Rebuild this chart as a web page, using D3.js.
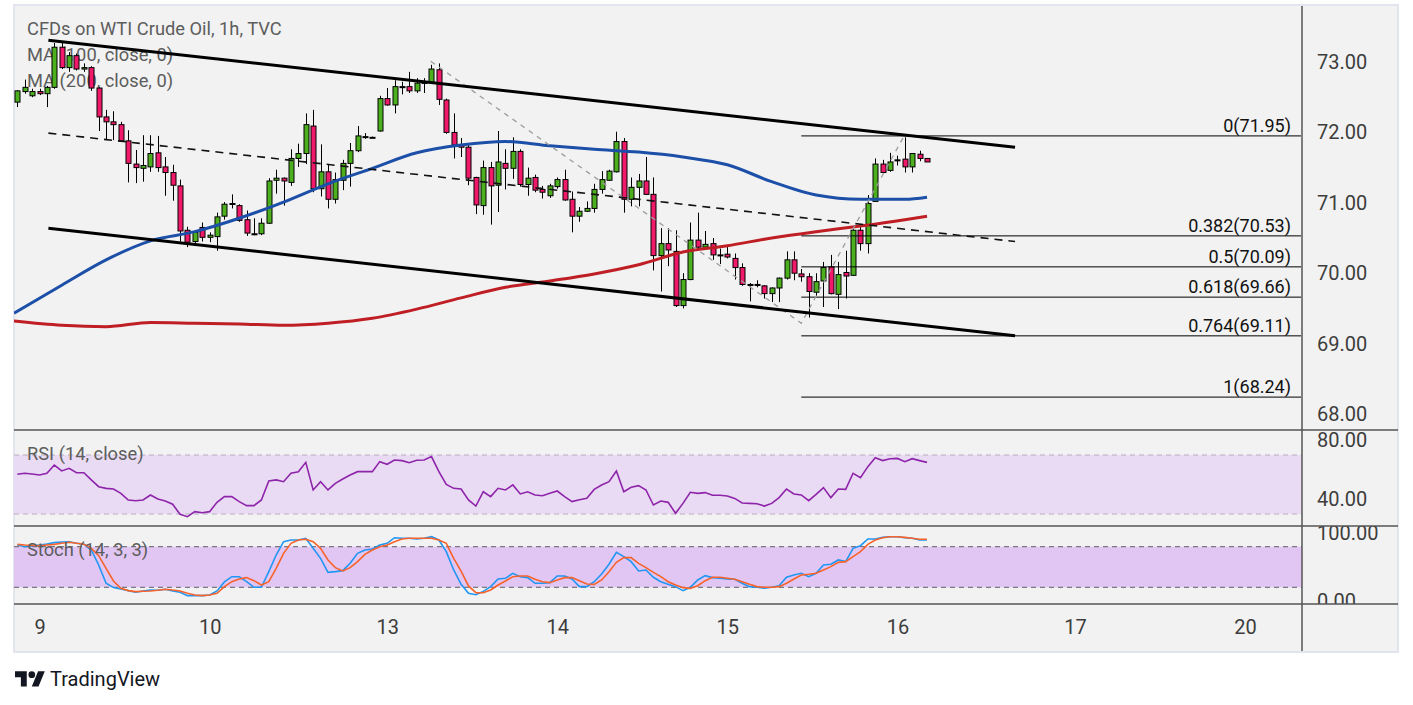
<!DOCTYPE html>
<html>
<head>
<meta charset="utf-8">
<script src="https://cdn.jsdelivr.net/npm/d3@7"></script>
<style>
  body { margin: 0; background: #fff; }
  svg { display: block; font-family: Roboto, "Liberation Sans", sans-serif; }
</style>
</head>
<body>
<svg width="1413" height="705"></svg>
<script>
// hourly bars, index 0 = first visible bar
const barOpen = [72.43,72.58,72.52,72.58,72.55,72.64,73.21,72.92,73.09,72.90,72.92,72.63,72.22,72.15,72.11,71.88,71.55,71.49,71.51,71.71,
  71.51,71.43,71.24,70.61,70.45,70.65,70.51,70.52,70.81,70.98,70.96,70.76,70.56,70.56,70.71,71.32,71.35,71.29,71.63,71.70,
  72.09,71.20,71.44,71.05,71.32,71.56,71.74,71.94,71.93,72.02,72.48,72.39,72.65,72.65,72.59,72.70,72.71,72.89,72.46,72.00,
  71.82,71.79,71.36,70.96,71.50,71.25,71.56,71.49,71.73,71.26,71.36,71.19,71.10,71.23,71.33,71.05,70.81,70.88,70.92,71.19,
  71.32,71.44,71.87,71.05,71.22,71.31,71.12,70.25,70.42,70.31,69.54,69.91,70.47,70.37,70.42,70.26,70.27,70.21,70.08,69.84,
  69.84,69.82,69.71,69.79,69.93,70.19,69.99,69.95,69.73,69.89,70.09,69.70,70.01,69.97,70.61,70.42,71.02,71.55,71.46,71.60,
  71.62,71.51,71.69,71.63];
const barHigh = [72.60,72.75,72.62,72.62,72.66,73.27,73.27,73.14,73.12,72.98,72.94,72.64,72.32,72.30,72.15,72.03,71.75,71.96,71.96,71.95,
  71.65,71.54,71.33,70.66,70.61,70.72,70.58,70.86,71.01,71.12,70.98,70.89,70.78,70.78,71.35,71.47,71.36,71.76,71.84,72.27,
  72.32,71.83,71.54,71.43,71.61,71.85,72.09,71.99,71.94,72.52,72.63,72.74,72.72,72.86,72.77,72.77,72.96,72.98,72.48,72.27,
  71.92,71.82,71.37,71.60,71.58,72.02,71.76,71.93,71.76,71.50,71.40,71.24,71.27,71.36,71.47,71.16,70.94,71.02,71.27,71.45,
  71.47,72.01,71.92,71.36,71.41,71.65,71.36,70.64,70.64,70.61,70.00,70.72,70.86,70.60,70.50,70.35,70.39,70.28,70.14,69.86,
  69.90,69.83,69.80,69.94,70.31,70.31,70.06,70.00,70.00,70.16,70.26,70.16,70.32,70.64,70.68,71.11,71.63,71.61,71.71,71.67,
  71.93,71.70,71.74,71.63];
const barLow = [72.36,72.55,72.50,72.53,72.36,72.62,72.90,72.86,72.88,72.86,72.59,72.02,71.89,71.89,71.87,71.29,71.28,71.30,71.44,71.44,
  71.10,71.03,70.45,70.37,70.42,70.45,70.44,70.32,70.76,70.92,70.73,70.53,70.54,70.54,70.70,71.13,70.96,71.24,71.51,71.55,
  71.15,71.09,70.92,70.99,71.18,71.23,71.72,71.91,71.92,72.01,72.38,72.27,72.54,72.56,72.56,72.56,72.70,72.39,71.98,71.63,
  71.65,71.25,70.84,70.83,70.69,70.87,71.19,71.34,71.23,71.10,71.15,71.06,71.07,71.20,71.03,70.58,70.73,70.87,70.86,71.13,
  71.31,71.43,70.86,70.95,70.95,71.11,70.04,69.74,70.10,69.52,69.50,69.90,70.34,70.33,70.19,70.13,70.21,69.91,69.82,69.60,
  69.80,69.64,69.59,69.59,69.91,69.90,69.88,69.37,69.68,69.52,69.70,69.49,69.64,69.96,70.32,70.28,71.02,71.41,71.44,71.53,
  71.43,71.43,71.59,71.58];
const barClose = [72.59,72.64,72.58,72.55,72.64,73.21,72.92,73.09,72.90,72.92,72.63,72.22,72.15,72.11,71.88,71.56,71.50,71.53,71.70,71.50,
  71.43,71.25,70.60,70.44,70.58,70.51,70.54,70.80,70.98,70.99,70.75,70.57,70.55,70.71,71.31,71.35,71.31,71.63,71.70,72.11,
  71.20,71.44,71.05,71.33,71.56,71.74,71.95,71.94,71.93,72.48,72.39,72.65,72.65,72.59,72.70,72.71,72.90,72.47,72.00,71.82,
  71.79,71.35,70.97,71.50,71.24,71.58,71.49,71.73,71.26,71.35,71.18,71.15,71.24,71.33,71.04,70.81,70.88,70.92,71.19,71.33,
  71.45,71.87,71.05,71.22,71.31,71.12,70.25,70.42,70.33,69.54,69.91,70.47,70.37,70.41,70.26,70.25,70.23,70.08,69.84,69.83,
  69.83,69.71,69.79,69.93,70.19,70.00,69.95,69.74,69.88,70.08,69.71,69.98,69.96,70.61,70.42,70.99,71.55,71.43,71.58,71.61,
  71.51,71.70,71.63,71.58];

// moving averages read at sampled bars
const maIdx = [-0.45,6,12,18,24,30,36,42,48,54,60,66,72,78,84,90,96,102,108,114,120,123];
const ma100 = [69.43,69.83,70.19,70.46,70.59,70.78,71.01,71.27,71.49,71.71,71.82,71.87,71.81,71.76,71.72,71.65,71.54,71.30,71.11,71.05,71.05,71.08];
const ma200 = [69.32,69.26,69.24,69.30,69.29,69.28,69.26,69.29,69.36,69.49,69.65,69.80,69.89,69.99,70.12,70.30,70.39,70.50,70.59,70.67,70.76,70.81];

const rsi = [56.9,57.6,57.1,56.4,57.6,63.2,59.2,61.0,58.0,58.0,53.1,48.5,47.4,46.9,44.0,39.5,39.0,39.5,42.9,40.2,
  38.8,36.6,29.8,28.2,31.6,30.9,31.6,37.9,41.8,41.8,38.4,35.7,35.7,39.5,52.4,53.1,51.9,57.6,58.7,65.0,
  46.3,51.9,46.3,50.8,53.7,56.4,58.7,58.7,58.7,65.5,63.7,66.6,66.2,64.8,66.4,66.6,68.9,58.7,50.1,47.4,
  46.9,39.5,35.4,45.1,41.8,47.4,46.3,49.7,43.6,45.1,42.9,42.4,44.0,45.6,41.8,38.4,39.7,40.6,46.7,49.7,
  51.9,59.2,45.1,48.1,49.2,46.3,36.1,38.8,37.9,30.5,37.2,44.7,44.0,44.5,42.7,42.7,42.2,40.6,37.5,37.2,
  37.0,35.4,37.2,41.1,46.9,43.6,42.9,39.0,43.3,47.9,41.1,46.9,46.7,57.6,54.6,62.1,68.2,66.2,67.5,67.7,
  65.5,67.5,66.2,65.0];
const stochK = [82.5,80.0,81.0,82.5,84.0,86.0,87.0,87.4,85.0,83.5,75.1,53.0,25.9,19.6,17.6,15.1,12.6,14.6,16.1,15.6,
  17.1,14.6,12.6,7.7,7.7,7.7,8.7,14.6,28.0,35.7,35.7,28.3,20.0,20.0,43.2,67.7,87.4,89.9,89.9,92.4,
  77.6,62.8,42.1,43.2,44.6,55.4,70.2,75.1,76.6,82.5,85.0,93.3,92.4,92.4,91.4,92.4,94.8,89.9,72.7,45.6,
  24.5,11.1,9.0,14.0,21.0,32.3,33.3,40.7,35.7,34.3,25.9,25.9,26.9,36.7,36.7,32.3,21.0,21.0,28.3,39.7,
  54.0,71.7,65.3,57.9,44.1,45.6,34.8,28.3,24.4,21.0,15.1,20.0,30.8,37.2,34.3,33.3,32.3,31.8,25.9,21.0,
  20.0,18.5,20.0,22.4,34.8,38.3,40.7,35.7,40.7,53.0,54.0,60.4,57.9,77.6,81.5,91.4,91.4,93.8,94.8,94.8,
  93.3,92.4,89.9,89.9];
const stochD = [83.5,82.5,82.0,81.5,82.5,83.5,85.0,86.5,85.0,83.5,77.6,66.8,48.1,29.3,18.6,15.1,13.6,14.1,14.6,15.6,
  17.1,16.1,14.6,11.1,8.7,7.7,8.7,11.1,21.0,28.3,32.3,34.3,29.8,23.4,28.3,48.1,70.2,85.0,89.9,90.9,
  87.4,77.6,60.4,49.0,44.1,49.0,57.9,68.7,75.1,80.0,82.5,87.4,91.4,92.4,92.4,92.4,92.4,89.9,85.0,62.8,
  44.0,22.0,12.0,12.0,16.1,23.4,29.3,35.7,36.7,36.7,31.8,28.3,26.9,30.8,34.3,34.3,29.8,24.9,24.4,30.8,
  43.1,56.9,63.8,63.8,55.4,49.0,42.1,35.7,28.3,23.4,19.5,18.5,22.4,29.8,34.8,34.8,33.3,31.8,28.3,24.4,
  21.0,20.0,20.0,21.0,25.9,32.3,38.2,39.2,40.7,45.6,50.5,56.9,57.9,65.3,72.7,83.5,89.9,93.3,94.8,94.8,
  93.8,92.4,90.9,90.9];

const dayTickIdx = [3, 26, 50, 73, 96, 119, 143, 166];
const dayTickLabel = ['9', '10', '13', '14', '15', '16', '17', '20'];
const priceTicks = [68, 69, 70, 71, 72, 73];
const rsiTicks = [40, 80];
const stochTicks = [0, 100];

// drawings: [bar index, price]
const channelTop = [[4.2, 73.31], [134.9, 71.79]];
const channelMid = [[4.2, 71.99], [134.9, 70.45]];
const channelBottom = [[4.2, 70.64], [134.9, 69.11]];
const fibPoints = [[55.9, 73.01], [106, 69.29], [119.9, 71.95]];
const fibRatios = ['0', '0.382', '0.5', '0.618', '0.764', '1'];
const fibPrices = [71.95, 70.53, 70.09, 69.66, 69.11, 68.24];

const svg = d3.select('svg');

const chartLeft = 14, chartRight = 1398, axisX = 1302, chartTop = 5, chartBottom = 652;
const priceTop = 5, priceBottom = 430, rsiBottom = 526, stochBottom = 604;

const upColor = '#4caf1e', downColor = '#f2196a';
const labelColor = '#5d5d5d';

const xScale = d3.scaleLinear().domain([-0.45, 173.7]).range([chartLeft, axisX]);
const yPrice = d3.scaleLinear().domain([68, 73]).range([414, 62]);
const yRsi = d3.scaleLinear().domain([30, 70]).range([514, 455]);
const yStoch = d3.scaleLinear().domain([20, 80]).range([587.3, 546.7]);

// background
svg.append('rect')
  .attr('x', chartLeft).attr('y', chartTop)
  .attr('width', chartRight - chartLeft).attr('height', chartBottom - chartTop)
  .attr('fill', '#f2f2f2').attr('stroke', '#e3e5ee').attr('stroke-width', 2);

const defs = svg.append('defs');
const addClip = (id, x0, y0, x1, y1) => {
  defs.append('clipPath').attr('id', id).append('rect')
    .attr('x', x0).attr('y', y0).attr('width', x1 - x0).attr('height', y1 - y0);
  return `url(#${id})`;
};
const clipPrice = addClip('clip-price', chartLeft, priceTop, axisX, priceBottom);
const clipRsi = addClip('clip-rsi', chartLeft, priceBottom, axisX, rsiBottom);
const clipStoch = addClip('clip-stoch', chartLeft, rsiBottom, axisX, stochBottom);
const clipPriceAxis = addClip('clip-price-axis', axisX, priceTop, chartRight, priceBottom);
const clipRsiAxis = addClip('clip-rsi-axis', axisX, priceBottom, chartRight, rsiBottom);
const clipStochAxis = addClip('clip-stoch-axis', axisX, rsiBottom, chartRight, stochBottom);

// legend texts (sit under the candles)
const legend = svg.append('g').attr('fill', labelColor).attr('font-size', 18.3);
['CFDs on WTI Crude Oil, 1h, TVC', 'MA (100, close, 0)', 'MA (200, close, 0)'].forEach((t, i) => {
  legend.append('text').attr('x', 27).attr('y', 29 + i * 26).attr('dy', '0.35em').text(t);
});

// ---- price panel
const gPrice = svg.append('g').attr('clip-path', clipPrice);

const bars = d3.range(barOpen.length).map(i => ({
  i, o: barOpen[i], h: barHigh[i], l: barLow[i], c: barClose[i]
}));

gPrice.append('g').selectAll('line')
  .data(bars).join('line')
  .attr('x1', d => Math.round(xScale(d.i)) + 0.5)
  .attr('x2', d => Math.round(xScale(d.i)) + 0.5)
  .attr('y1', d => yPrice(d.h))
  .attr('y2', d => yPrice(d.l))
  .attr('stroke', '#000').attr('stroke-width', 1);

gPrice.append('g').selectAll('rect')
  .data(bars).join('rect')
  .attr('x', d => Math.round(xScale(d.i)) - 2)
  .attr('width', 5)
  .attr('y', d => yPrice(Math.max(d.o, d.c)))
  .attr('height', d => Math.max(1, Math.abs(yPrice(d.o) - yPrice(d.c))))
  .attr('fill', d => d.c >= d.o ? upColor : downColor)
  .attr('stroke', '#000').attr('stroke-width', 1);

const maLine = d3.line()
  .x(d => xScale(d[0]))
  .y(d => yPrice(d[1]))
  .curve(d3.curveMonotoneX);

gPrice.append('path')
  .attr('d', maLine(maIdx.map((d, i) => [d, ma200[i]])))
  .attr('fill', 'none').attr('stroke', '#bf1e24').attr('stroke-width', 3);

gPrice.append('path')
  .attr('d', maLine(maIdx.map((d, i) => [d, ma100[i]])))
  .attr('fill', 'none').attr('stroke', '#1c4fa8').attr('stroke-width', 3);

const straight = d3.line().x(d => xScale(d[0])).y(d => yPrice(d[1]));

// fib extension levels
const fibStart = xScale(fibPoints[1][0]);
fibPrices.forEach((p, i) => {
  gPrice.append('line')
    .attr('x1', fibStart).attr('x2', axisX - 1)
    .attr('y1', yPrice(p)).attr('y2', yPrice(p))
    .attr('stroke', '#000').attr('stroke-width', 1);
  gPrice.append('text')
    .attr('x', 1291).attr('y', yPrice(p) - 4)
    .attr('text-anchor', 'end')
    .attr('font-size', 18).attr('fill', '#111')
    .text(`${fibRatios[i]}(${p.toFixed(2)})`);
});

gPrice.append('path')
  .attr('d', straight(fibPoints))
  .attr('fill', 'none').attr('stroke', '#9c9c9c')
  .attr('stroke-width', 1.3).attr('stroke-dasharray', '5,5');

gPrice.append('path')
  .attr('d', straight(channelMid))
  .attr('fill', 'none').attr('stroke', '#111')
  .attr('stroke-width', 1.6).attr('stroke-dasharray', '8,6');

[channelTop, channelBottom].forEach(seg => {
  gPrice.append('path')
    .attr('d', straight(seg))
    .attr('fill', 'none').attr('stroke', '#000').attr('stroke-width', 3);
});

// ---- RSI panel
const gRsi = svg.append('g').attr('clip-path', clipRsi);
gRsi.append('rect')
  .attr('x', chartLeft).attr('width', axisX - chartLeft)
  .attr('y', yRsi(70)).attr('height', yRsi(30) - yRsi(70))
  .attr('fill', '#e9dbf3');
[70, 30].forEach(v => {
  gRsi.append('line')
    .attr('x1', chartLeft).attr('x2', axisX)
    .attr('y1', yRsi(v)).attr('y2', yRsi(v))
    .attr('stroke', '#b7aec0').attr('stroke-width', 1).attr('stroke-dasharray', '5,4');
});
gRsi.append('path')
  .attr('d', d3.line().x((d, i) => xScale(i)).y(d => yRsi(d))(rsi))
  .attr('fill', 'none').attr('stroke', '#8e24aa').attr('stroke-width', 1.6);
svg.append('text')
  .attr('x', 27).attr('y', 454).attr('dy', '0.35em')
  .attr('font-size', 18.3).attr('fill', labelColor)
  .text('RSI (14, close)');

// ---- Stochastic panel
const gStoch = svg.append('g').attr('clip-path', clipStoch);
gStoch.append('rect')
  .attr('x', chartLeft).attr('width', axisX - chartLeft)
  .attr('y', yStoch(80)).attr('height', yStoch(20) - yStoch(80))
  .attr('fill', '#e1c5f3');
[80, 20].forEach(v => {
  gStoch.append('line')
    .attr('x1', chartLeft).attr('x2', axisX)
    .attr('y1', yStoch(v)).attr('y2', yStoch(v))
    .attr('stroke', '#5e5e66').attr('stroke-width', 1).attr('stroke-dasharray', '5,4');
});
const stochLine = d3.line().x((d, i) => xScale(i)).y(d => yStoch(d));
gStoch.append('path')
  .attr('d', stochLine(stochK))
  .attr('fill', 'none').attr('stroke', '#2196f3').attr('stroke-width', 1.6);
gStoch.append('path')
  .attr('d', stochLine(stochD))
  .attr('fill', 'none').attr('stroke', '#f7632a').attr('stroke-width', 1.6);
svg.append('text')
  .attr('x', 27).attr('y', 550).attr('dy', '0.35em')
  .attr('font-size', 18.3).attr('fill', labelColor)
  .text('Stoch (14, 3, 3)');

// ---- axes
const styleAxis = g => {
  g.select('.domain').remove();
  g.selectAll('.tick line').remove();
  g.selectAll('text').attr('font-size', 20).attr('fill', '#3d3d3d')
    .attr('font-family', 'Roboto, "Liberation Sans", sans-serif');
};
const fmt = d3.format('.2f');

svg.append('g').attr('clip-path', clipPriceAxis)
  .append('g').attr('transform', `translate(${axisX},0)`)
  .call(d3.axisRight(yPrice).tickValues(priceTicks).tickSize(0).tickPadding(15).tickFormat(fmt))
  .call(styleAxis);
svg.append('g').attr('clip-path', clipRsiAxis)
  .append('g').attr('transform', `translate(${axisX},0)`)
  .call(d3.axisRight(yRsi).tickValues(rsiTicks).tickSize(0).tickPadding(15).tickFormat(fmt))
  .call(styleAxis);
svg.append('g').attr('clip-path', clipStochAxis)
  .append('g').attr('transform', `translate(${axisX},0)`)
  .call(d3.axisRight(yStoch).tickValues(stochTicks).tickSize(0).tickPadding(15).tickFormat(fmt))
  .call(styleAxis);

svg.append('g')
  .attr('transform', `translate(0,${stochBottom})`)
  .call(d3.axisBottom(xScale).tickValues(dayTickIdx).tickSize(0).tickPadding(16)
    .tickFormat((d, i) => dayTickLabel[i]))
  .call(styleAxis);

// panel separators
[priceBottom, rsiBottom, stochBottom].forEach(y => {
  svg.append('line')
    .attr('x1', chartLeft).attr('x2', chartRight)
    .attr('y1', y).attr('y2', y)
    .attr('stroke', '#555').attr('stroke-width', 1.5);
});
svg.append('line')
  .attr('x1', axisX).attr('x2', axisX)
  .attr('y1', chartTop + 1).attr('y2', chartBottom - 1)
  .attr('stroke', '#555').attr('stroke-width', 1.5);

// logo
const logo = svg.append('g').attr('fill', '#131722');
logo.append('g')
  .attr('transform', 'translate(15,668) scale(0.84)')
  .call(g => {
    g.append('path').attr('d', 'M14 22H7V11H0V4h14v18zM28 22h-8l7.5-18h8L28 22z');
    g.append('circle').attr('cx', 20).attr('cy', 8).attr('r', 4);
  });
logo.append('text')
  .attr('x', 50).attr('y', 686)
  .attr('font-size', 20)
  .text('TradingView');
</script>
</body>
</html>
